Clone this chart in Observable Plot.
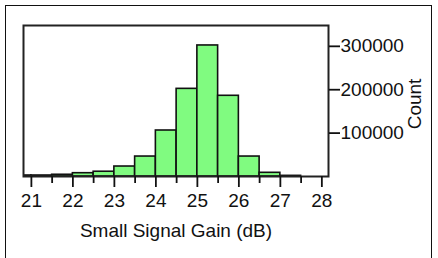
<!DOCTYPE html>
<html>
<head>
<meta charset="utf-8">
<script src="https://cdn.jsdelivr.net/npm/d3@7"></script>
<script src="https://cdn.jsdelivr.net/npm/@observablehq/plot@0.6"></script>
<style>
  html, body { margin: 0; padding: 0; background: #fff; overflow: hidden; }
  #wrap { position: relative; width: 438px; height: 258px; overflow: hidden; }
  #border { position: absolute; left: 5px; top: 5px; width: 427px; height: 300px; border: 1px solid #111; box-sizing: border-box; }
  #chart { position: absolute; left: 0; top: 0; }
</style>
</head>
<body>
<div id="wrap"><div id="border"></div><div id="chart"></div></div>
<script>
// Histogram bins (lower/upper edges in dB) and counts
const binLow  = [20.5, 21, 21.5, 22, 22.5, 23, 23.5, 24, 24.5, 25, 25.5, 26, 26.5, 27];
const binHigh = [21, 21.5, 22, 22.5, 23, 23.5, 24, 24.5, 25, 25.5, 26, 26.5, 27, 27.5];
const counts  = [2300, 2300, 4000, 7600, 11000, 23000, 46000, 106000, 202000, 302000, 186000, 46000, 8500, 1500];
const xMajorTicks = [21, 22, 23, 24, 25, 26, 27, 28];
const xMinorTicks = [21.5, 22.5, 23.5, 24.5, 25.5, 26.5, 27.5];
const yTicks = [100000, 200000, 300000];
const xTitle = "Small Signal Gain (dB)";
const yTitle = "Count";

const rows = binLow.map((lo, i) => ({lo, hi: binHigh[i], count: counts[i]}));
const font = "Liberation Sans, Arial, Helvetica, sans-serif";

const chart = Plot.plot({
  width: 438,
  height: 258,
  marginTop: 25,
  marginLeft: 23,
  marginRight: 110,
  marginBottom: 82,
  style: {fontFamily: font, fontSize: "19px", background: "transparent", color: "#111"},
  x: {domain: [20.81, 28.16]},
  y: {domain: [0, 348000]},
  marks: [
    Plot.rectY(rows, {x1: "lo", x2: "hi", y: "count", fill: "#80fb80", stroke: "#111", strokeWidth: 1.6, clip: true}),
    Plot.frame({stroke: "#222", strokeWidth: 2}),
    Plot.axisX({ticks: xMajorTicks, tickSize: 11, tickPadding: 6, tickFormat: d => String(d), strokeWidth: 1.8, stroke: "#111", fontSize: 19, label: null}),
    Plot.axisX({ticks: xMinorTicks, tickSize: 7, tickFormat: null, text: null, strokeWidth: 1.8, stroke: "#111", label: null}),
    Plot.axisY({anchor: "right", ticks: yTicks, tickSize: 11, tickPadding: 1, tickFormat: d => String(d), strokeWidth: 1.8, stroke: "#111", fontSize: 19, label: null}),
    Plot.text([xTitle], {frameAnchor: "bottom", text: d => d, dy: 54, fontSize: 19, lineAnchor: "middle", textAnchor: "middle", fill: "#111"}),
    Plot.text([yTitle], {frameAnchor: "right", text: d => d, dx: 86, dy: 3, rotate: -90, fontSize: 19, lineAnchor: "middle", textAnchor: "middle", fill: "#111"})
  ]
});
document.getElementById("chart").appendChild(chart);
</script>
</body>
</html>
